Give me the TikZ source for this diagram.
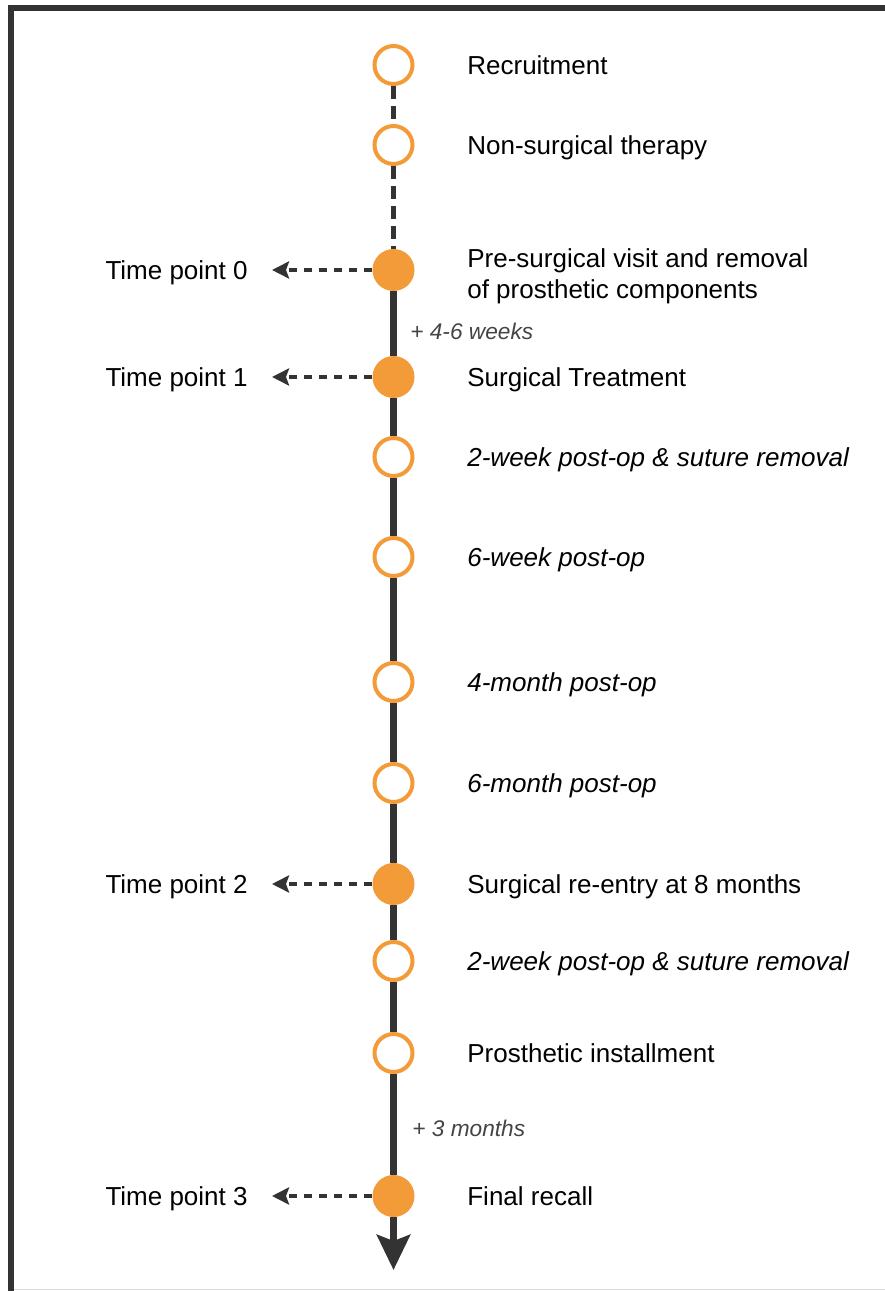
\documentclass[tikz,border=0pt]{standalone}
\usepackage{fontspec}
\setmainfont{Liberation Sans}
\usetikzlibrary{arrows.meta,positioning,shapes}
\definecolor{dotorange}{HTML}{F29B38}
\definecolor{linegray}{HTML}{333333}
\definecolor{notegray}{HTML}{444444}

\begin{document}
\begin{tikzpicture}[every node/.style={font=\fontsize{14.8}{17.8}\selectfont},
    visit/.style={circle,draw=dotorange,line width=0.08cm,fill=white,minimum size=0.76cm,inner sep=0},
    tpoint/.style={circle,fill=dotorange,minimum size=0.84cm,inner sep=0},
    txt/.style={anchor=base west,inner sep=0},
    post/.style={txt,font=\fontsize{14.8}{17.8}\selectfont\itshape},
    tplabel/.style={anchor=base east,inner sep=0},
    note/.style={anchor=base west,inner sep=0,text=notegray,font=\fontsize{12.9}{15}\selectfont\itshape},
    mainline/.style={linegray,line width=0.14cm},
    topdash/.style={linegray,line width=0.1cm,dash pattern=on 0.26cm off 0.14cm},
    tparrow/.style={linegray,line width=0.09cm,dash pattern=on 0.16cm off 0.14cm,
        -{Stealth[length=0.34cm,width=0.34cm,inset=0.06cm]},shorten >=0.48cm}]
                \useasboundingbox (0,0) rectangle (17.7,25.82);
                \draw [linegray,line width=0.12cm] (0.22,0) |- (17.7,25.66);
                \draw [gray!30,line width=0.04cm] (0.28,0.03) -- (17.7,0.03);
                % visits
                \node[visit] (rec) at (7.87,24.52) {};
                \node[visit] (nst) at (7.87,22.92) {};
                \node[tpoint] (pre) at (7.87,20.42) {};
                \node[tpoint] (sur) at (7.87,18.28) {};
                \node[visit] (pw2) at (7.87,16.68) {};
                \node[visit] (pw6) at (7.87,14.68) {};
                \node[visit] (pm4) at (7.87,12.18) {};
                \node[visit] (pm6) at (7.87,10.16) {};
                \node[tpoint] (ren) at (7.87,8.14) {};
                \node[visit] (pw2b) at (7.87,6.60) {};
                \node[visit] (pin) at (7.87,4.76) {};
                \node[tpoint] (fin) at (7.87,1.90) {};
                \coordinate (tip) at (7.87,0.42);
                % timeline
                \draw [topdash] (rec) -- (nst) -- (pre);
                \draw [mainline] (pre) -- (sur) -- (pw2) -- (pw6) -- (pm4) -- (pm6) -- (ren) -- (pw2b) -- (pin) -- (fin);
                \draw [mainline,-{Stealth[length=0.7cm,width=0.66cm,inset=0.12cm]}] (fin) -- (tip);
                % texts
                \node[txt] (trec) at (9.34,24.33) {Recruitment};
                \node[txt] (tnst) at (9.34,22.73) {Non-surgical therapy};
                \node[txt,anchor=west,align=left] (tpre) at (9.34,20.30) {Pre-surgical visit and removal\\of prosthetic components};
                \node[txt] (tsur) at (9.34,18.09) {Surgical Treatment};
                \node[post] (tpw2) at (9.34,16.49) {2-week post-op \& suture removal};
                \node[post] (tpw6) at (9.34,14.49) {6-week post-op};
                \node[post] (tpm4) at (9.34,11.99) {4-month post-op};
                \node[post] (tpm6) at (9.34,9.97) {6-month post-op};
                \node[txt] (tren) at (9.34,7.95) {Surgical re-entry at 8 months};
                \node[post] (tpw2b) at (9.34,6.41) {2-week post-op \& suture removal};
                \node[txt] (tpin) at (9.34,4.57) {Prosthetic installment};
                \node[txt] (tfin) at (9.34,1.71) {Final recall};
                \node[note] (wk46) at (8.2,19.02) {+ 4-6 weeks};
                \node[note] (mo3) at (8.24,3.08) {+ 3 months};
                % time points
                \node[tplabel] (tp0) at (4.96,20.23) {Time point 0};
                \node[tplabel] (tp1) at (4.96,18.09) {Time point 1};
                \node[tplabel] (tp2) at (4.96,7.95) {Time point 2};
                \node[tplabel] (tp3) at (4.96,1.71) {Time point 3};
                \draw [tparrow] (pre.west) -- (pre.west -| tp0.east);
                \draw [tparrow] (sur.west) -- (sur.west -| tp1.east);
                \draw [tparrow] (ren.west) -- (ren.west -| tp2.east);
                \draw [tparrow] (fin.west) -- (fin.west -| tp3.east);
            \end{tikzpicture}
\end{document}
